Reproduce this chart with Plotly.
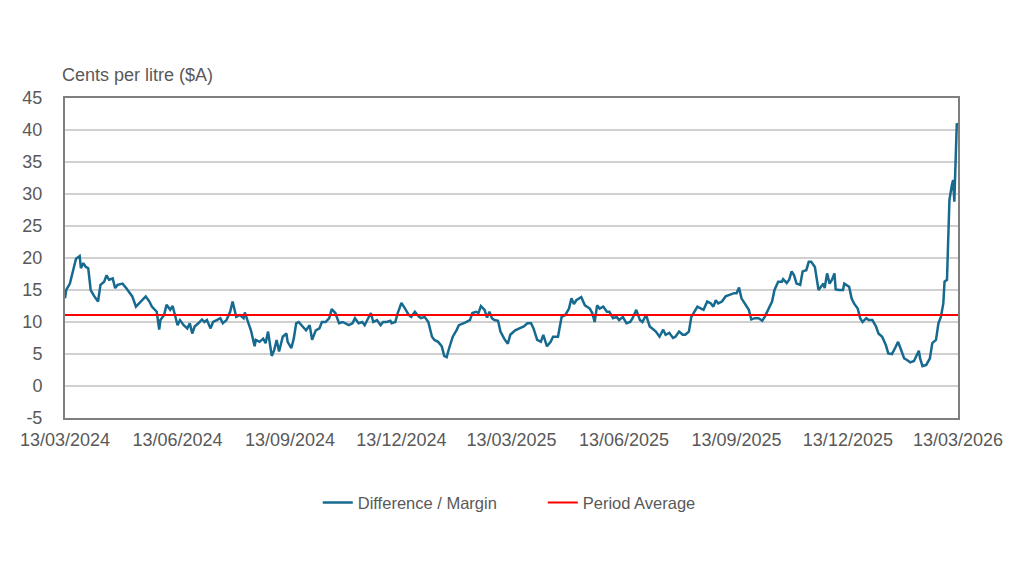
import datetime as dt
import plotly.graph_objects as go

start_date = "2024-03-13"
end_date = "2026-03-13"

# days since 13/03/2024 and margin values (cents per litre)
days = [0, 1, 4, 5, 6, 8, 9, 12, 13, 15, 17, 19, 21, 24, 27, 29, 32, 34, 36, 39, 41, 43, 47, 50, 52, 55, 58, 61, 63, 66, 69, 71, 75, 77, 78, 81, 83, 86, 88, 90, 92, 94, 97, 100, 102, 104, 106, 109, 112, 114,
        116, 119, 121, 124, 127, 129, 132, 135, 137, 140, 143, 146, 147, 150, 152, 155, 156, 159, 162, 164, 166, 169, 171, 173, 175, 178, 181, 182, 185, 187, 189, 191, 194, 197, 200, 202, 205, 208, 210, 213, 216, 218, 221, 224, 227, 229, 232, 235, 237,
        240, 243, 245, 248, 250, 252, 255, 258, 260, 263, 266, 267, 270, 272, 275, 278, 281, 283, 286, 289, 291, 294, 297, 300, 302, 305, 308, 310, 312, 314, 317, 320, 322, 327, 331, 333, 336, 338, 340, 343, 345, 347, 349, 351, 354, 356, 359,
        362, 364, 368, 372, 375, 378, 381, 383, 386, 389, 391, 394, 397, 399, 403, 406, 409, 412, 414, 416, 418, 422, 425, 429, 431, 433, 435, 437, 440, 443, 445, 448, 451, 453, 456, 459, 462, 464, 467, 470, 472, 475, 478, 480,
        483, 486, 489, 491, 494, 497, 499, 502, 505, 507, 510, 512, 514, 517, 520, 522, 525, 528, 530, 532, 534, 537, 540, 543, 547, 549, 551, 553, 556, 559, 561, 564, 567, 570, 572, 575, 578, 580, 583, 586, 587, 590, 592, 594, 596, 598, 601, 603,
        606, 608, 610, 613, 615, 616, 618, 620, 621, 623, 625, 627, 629, 630, 633, 636, 637, 641, 643, 645, 648, 650, 652, 655, 657, 660, 663, 665, 668, 671, 673, 676, 679, 681, 683, 686, 688, 691, 694, 696, 698, 699, 701, 704, 707, 709, 712, 714, 716, 718, 719, 721, 722, 723, 725, 726, 727, 728, 729, 730]

margin = [13.7, 15.0, 16.0, 16.8, 17.6, 19.4, 19.9, 20.3, 18.4, 19.2, 18.6, 18.4, 15.0, 14.0, 13.2, 15.8, 16.3, 17.3, 16.6, 16.8, 15.3, 15.8, 16.0, 15.3, 14.7, 14.0, 12.4, 13.0, 13.4, 14.0, 13.2, 12.4, 11.6, 8.8, 10.3, 11.1, 12.7, 11.9, 12.5, 10.8, 9.5, 10.3, 9.5, 9.0, 9.8, 8.2, 9.3, 9.8, 10.4, 10.0,
          10.3, 9.0, 10.0, 10.3, 10.6, 9.8, 10.3, 11.6, 13.2, 10.8, 11.1, 10.6, 11.5, 9.8, 8.7, 6.2, 7.2, 6.9, 7.4, 6.7, 8.5, 4.7, 5.6, 7.2, 5.4, 7.7, 8.2, 6.9, 5.9, 7.4, 9.8, 10.0, 9.3, 8.7, 9.5, 7.2, 8.7, 9.0, 10.0, 10.0, 10.6, 12.0, 11.4, 9.8, 10.0, 9.8, 9.5, 9.8, 10.6,
          9.8, 10.0, 9.5, 10.6, 11.4, 10.0, 10.3, 9.5, 10.0, 10.0, 10.2, 9.8, 10.0, 11.4, 13.0, 12.1, 11.1, 10.8, 11.6, 10.9, 10.6, 10.8, 10.0, 7.7, 7.2, 6.9, 6.2, 4.7, 4.5, 5.9, 7.7, 8.7, 9.5, 9.9, 10.3, 11.4, 11.6, 11.4, 12.5, 11.9, 10.7, 11.6, 10.6, 10.3, 10.2, 8.5, 7.4,
          6.6, 8.0, 8.7, 9.0, 9.3, 9.8, 9.8, 9.0, 7.2, 6.9, 8.0, 6.2, 6.9, 7.7, 7.7, 10.8, 11.1, 12.1, 13.7, 12.8, 13.4, 13.9, 12.6, 12.1, 11.4, 10.0, 12.6, 12.1, 12.4, 11.6, 11.6, 10.6, 10.8, 10.3, 10.8, 9.8, 10.0, 10.6, 11.9, 10.3, 10.0, 11.1, 9.3, 9.0,
          8.5, 7.7, 8.8, 8.0, 8.3, 7.5, 7.7, 8.5, 8.0, 8.0, 8.5, 10.8, 11.5, 12.4, 12.1, 11.9, 13.2, 12.9, 12.4, 13.4, 12.9, 13.2, 14.0, 14.2, 14.5, 14.5, 15.4, 13.7, 12.7, 11.9, 10.4, 10.6, 10.6, 10.2, 10.8, 11.9, 13.2, 15.0, 16.3, 16.3, 16.7, 16.1, 16.6, 17.9, 17.3, 16.0, 15.8, 17.9,
          18.1, 19.4, 19.4, 18.6, 16.6, 15.0, 15.5, 16.0, 15.3, 17.6, 16.0, 16.6, 17.6, 15.1, 15.0, 15.0, 16.0, 15.5, 13.7, 12.9, 12.1, 10.6, 10.0, 10.6, 10.3, 10.3, 9.3, 8.2, 7.7, 6.4, 5.1, 5.0, 6.1, 6.9, 5.9, 4.3, 4.1, 3.7, 3.9, 4.8, 5.5, 4.3, 3.1, 3.3, 4.3, 6.7, 7.2, 9.8, 10.8, 12.9, 16.3, 16.6, 23.9, 29.1, 31.4, 32.2, 28.8, 36.3, 41.0, 40.8]

period_average = 11.1

tick_dates = ["2024-03-13", "2024-06-13", "2024-09-13", "2024-12-13", "2025-03-13",
              "2025-06-13", "2025-09-13", "2025-12-13", "2026-03-13"]
tick_labels = ["13/03/2024", "13/06/2024", "13/09/2024", "13/12/2024", "13/03/2025",
               "13/06/2025", "13/09/2025", "13/12/2025", "13/03/2026"]
y_ticks = [-5, 0, 5, 10, 15, 20, 25, 30, 35, 40, 45]
y_tick_labels = ["-5", "0", "5", "10", "15", "20", "25", "30", "35", "40", "45"]

base = dt.date.fromisoformat(start_date)
dates = [base + dt.timedelta(days=d) for d in days]

TEXT = "#595959"
FONT = "Liberation Sans, Arial, sans-serif"

fig = go.Figure()
fig.add_trace(go.Scatter(x=dates, y=margin, mode="lines", name="Difference / Margin",
                         line=dict(color="#176a8f", width=2.5)))
fig.add_trace(go.Scatter(x=[start_date, end_date], y=[period_average, period_average],
                         mode="lines", name="Period Average",
                         line=dict(color="#ff0000", width=2)))

fig.update_layout(
    width=1024, height=576,
    margin=dict(l=49, r=74, t=90, b=166),
    paper_bgcolor="white", plot_bgcolor="white",
    font=dict(family=FONT, color=TEXT, size=18),
    showlegend=True,
    legend=dict(orientation="h", x=0.535, xanchor="center", y=-0.265, yanchor="middle",
                font=dict(size=16.5, color=TEXT), traceorder="normal",
                entrywidth=180, entrywidthmode="pixels"),
    annotations=[dict(text="Cents per litre ($A)", xref="paper", yref="paper",
                      x=-0.0055, y=1.072, xanchor="left", yanchor="middle", showarrow=False,
                      font=dict(size=18, color=TEXT))],
)
fig.update_xaxes(type="date", range=[start_date, end_date], tickvals=tick_dates, ticktext=tick_labels,
                 showgrid=False, showline=True, linecolor="#7f7f7f", linewidth=2, mirror=True,
                 ticks="", ticklabelstandoff=4, tickfont=dict(size=18, color=TEXT), zeroline=False)
fig.update_yaxes(range=[-5, 45], tickvals=y_ticks, ticktext=y_tick_labels, showgrid=True,
                 gridcolor="#d0d0d0", gridwidth=2,
                 showline=True, linecolor="#7f7f7f", linewidth=2, mirror=True,
                 ticks="", ticklabelstandoff=17, tickfont=dict(size=18, color=TEXT), zeroline=False)

fig.write_html("out.html")
